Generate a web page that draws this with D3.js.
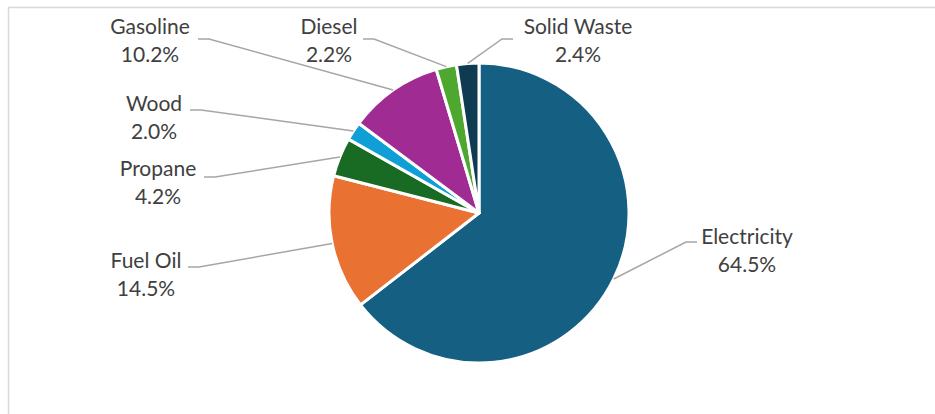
<!DOCTYPE html>
<html>
<head>
<meta charset="utf-8">
<script src="https://cdn.jsdelivr.net/npm/d3@7"></script>
<style>
  body { margin: 0; background: #fff; }
  svg { display: block; }
</style>
</head>
<body>
<div id="chart"></div>
<script>
// data
let sources = ["Electricity", "Fuel Oil", "Propane", "Wood", "Gasoline", "Diesel", "Solid Waste"];
let shares = [64.5, 14.5, 4.2, 2.0, 10.2, 2.2, 2.4];
let colors = ["#156082", "#e97132", "#196b24", "#0f9ed5", "#a02b93", "#4ea72e", "#0e3a52"];

// label layout: text centre x, first baseline y, elbow start x/y
let labelPos = [
    {x: 747, y: 244, ex: 697, ey: 242},
    {x: 146, y: 268, ex: 188, ey: 267},
    {x: 158, y: 176, ex: 204, ey: 177},
    {x: 154, y: 111, ex: 190, ey: 110},
    {x: 150, y: 34,  ex: 198, ey: 39},
    {x: 329, y: 34,  ex: 363, ey: 39},
    {x: 578, y: 34,  ex: 513, ey: 39}
];

let width = 935, height = 414;
let cx = 479, cy = 213, radius = 150;

let svg = d3.select("#chart").append("svg")
    .attr("width", width)
    .attr("height", height);

// chart frame (runs off the right and bottom edges)
svg.append("path")
    .attr("d", "M8.5," + height + " V7.5 H" + width)
    .attr("fill", "none")
    .attr("stroke", "#d9d9d9")
    .attr("stroke-width", 1.5);

let data = sources.map((s, i) => ({name: s, value: shares[i], color: colors[i], lab: labelPos[i]}));

let pie = d3.pie().sort(null).value(d => d.value);
let arcs = pie(data);

let arc = d3.arc().innerRadius(0).outerRadius(radius);

let g = svg.append("g").attr("transform", "translate(" + cx + "," + cy + ")");

g.selectAll("path.slice")
    .data(arcs)
    .enter().append("path")
        .attr("class", "slice")
        .attr("d", arc)
        .attr("fill", d => d.data.color)
        .attr("stroke", "#fff")
        .attr("stroke-width", 3)
        .attr("stroke-linejoin", "round");

// leader lines
svg.append("g").selectAll("polyline")
    .data(arcs)
    .enter().append("polyline")
        .attr("points", function(d){
            let a = (d.startAngle + d.endAngle) / 2;
            let px = cx + radius * Math.sin(a);
            let py = cy - radius * Math.cos(a);
            let l = d.data.lab;
            let dir = px > l.ex ? 1 : -1;
            return [[l.ex, l.ey], [l.ex + dir * 11, l.ey], [px, py]].join(" ");
        })
        .attr("fill", "none")
        .attr("stroke", "#a6a6a6")
        .attr("stroke-width", 1.5);

// labels
let labels = svg.append("g").selectAll("text")
    .data(arcs)
    .enter().append("text")
        .attr("text-anchor", "middle")
        .attr("font-family", "Lato, 'Open Sans', sans-serif")
        .attr("font-size", "21px")
        .attr("fill", "#404040");

labels.append("tspan")
    .attr("x", d => d.data.lab.x)
    .attr("y", d => d.data.lab.y)
    .text(d => d.data.name);
labels.append("tspan")
    .attr("x", d => d.data.lab.x)
    .attr("y", d => d.data.lab.y + 28)
    .text(d => d.data.value.toFixed(1) + "%");
</script>
</body>
</html>
